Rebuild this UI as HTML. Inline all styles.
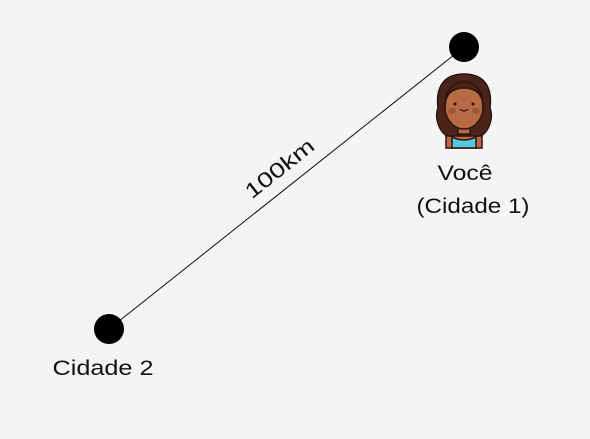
<!DOCTYPE html>
<html><head><style>
body{margin:0;background:#f4f4f4;width:590px;height:434px;overflow:hidden;font-family:"Liberation Sans",sans-serif}
</style></head><body>
<svg width="590" height="434">
<rect width="590" height="434" fill="#f4f4f4"/>
<line x1="109" y1="329" x2="464" y2="47" stroke="#111" stroke-width="1"/>
<text x="0" y="0" font-size="21" fill="#111" text-anchor="middle" textLength="82" lengthAdjust="spacingAndGlyphs" transform="translate(284,174) rotate(-38.5)">100km</text>
<circle cx="109" cy="329" r="15" fill="#000"/>
<circle cx="464" cy="47" r="15" fill="#000"/>
<g stroke="#2a1410" stroke-width="1.5">
<path d="M446,148 L446,136 Q464,128 482,136 L482,148 Z" fill="#b86a44"/>
<path d="M452,148 L452,137 Q464,143 476,137 L476,148 Z" fill="#5bc6e0"/>
<path d="M464,74 C440,74 436,92 438,108 C434,118 440,134 448,136 L480,136 C488,134 494,118 490,108 C492,92 488,74 464,74 Z" fill="#4a2418"/>
<rect x="458" y="122" width="12" height="12" fill="#b86a44"/>
<ellipse cx="464" cy="107" rx="19" ry="22" fill="#b86a44"/>
<path d="M445,100 Q450,82 464,82 Q478,82 483,100 Q478,88 464,88 Q450,88 445,100 Z" fill="#4a2418"/>
<circle cx="455" cy="104" r="1.5" fill="#2a1410" stroke="none"/>
<circle cx="473" cy="104" r="1.5" fill="#2a1410" stroke="none"/>
<ellipse cx="452" cy="111" rx="4" ry="3" fill="#a0553a" stroke="none"/>
<ellipse cx="476" cy="111" rx="4" ry="3" fill="#a0553a" stroke="none"/>
<path d="M460,109 Q464,113 468,109" fill="none" stroke-width="1.2"/>
</g>
<text x="465" y="180" font-size="21" fill="#111" text-anchor="middle" textLength="55" lengthAdjust="spacingAndGlyphs">Você</text>
<text x="473" y="213" font-size="21" fill="#111" text-anchor="middle" textLength="113" lengthAdjust="spacingAndGlyphs">(Cidade 1)</text>
<text x="103" y="375" font-size="21" fill="#111" text-anchor="middle" textLength="101" lengthAdjust="spacingAndGlyphs">Cidade 2</text>
</svg>
</body></html>
